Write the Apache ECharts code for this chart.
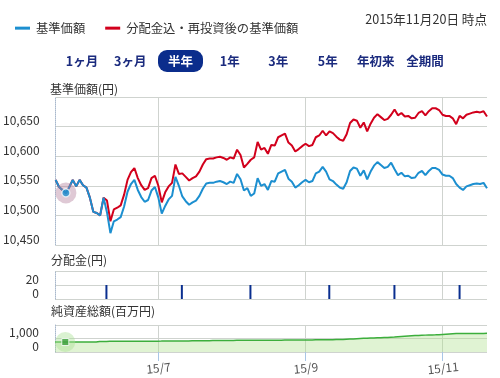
<!DOCTYPE html>
<html><head><meta charset="utf-8">
<script src="https://cdn.jsdelivr.net/npm/echarts@6/dist/echarts.min.js"></script>
<style>html,body{margin:0;padding:0;background:#fff}#c{width:500px;height:378px}</style>
</head><body><div id="c"></div>
<script>
// Trading days (categories), listed per month
const monthDays = [
  ['2015/05', [20,21,22,25,26,27,28,29]],
  ['2015/06', [1,2,3,4,5,8,9,10,11,12,15,16,17,18,19,22,23,24,25,26,29,30]],
  ['2015/07', [1,2,3,6,7,8,9,10,13,14,15,16,17,21,22,23,24,27,28,29,30,31]],
  ['2015/08', [3,4,5,6,7,10,11,12,13,14,17,18,19,20,21,24,25,26,27,28,31]],
  ['2015/09', [1,2,3,4,7,8,9,10,11,14,15,16,17,18,24,25,28,29,30]],
  ['2015/10', [1,2,5,6,7,8,9,13,14,15,16,19,20,21,22,23,26,27,28,29,30]],
  ['2015/11', [2,4,5,6,9,10,11,12,13,16,17,18,19,20]]
];
const xTickDates = ['2015/07/01','2015/09/01','2015/11/02'];
const xTickLabels = ['15/7','15/9','15/11'];

// 基準価額
const navValues = [
10560,10548,10543,10538,10548,10560,10549,10560,10551,10547,
10530,10506,10504,10500,10530,10505,10470,10490,10493,10497,
10515,10540,10553,10560,10543,10531,10523,10526,10542,10548,
10530,10503,10516,10527,10533,10565,10550,10532,10524,10518,
10522,10525,10533,10545,10554,10555,10555,10557,10558,10556,
10553,10557,10555,10570,10561,10542,10546,10533,10537,10563,
10550,10553,10543,10558,10557,10571,10574,10577,10562,10557,
10547,10551,10556,10560,10556,10558,10571,10574,10582,10574,
10561,10558,10552,10547,10545,10556,10575,10581,10579,10567,
10576,10561,10574,10584,10590,10585,10580,10582,10589,10578,
10568,10572,10566,10567,10563,10564,10572,10575,10568,10575,
10580,10580,10577,10569,10567,10567,10563,10553,10547,10543,
10549,10551,10553,10554,10553,10555,10546];

// 分配金込・再投資後の基準価額
const reinvValues = [
10560,10548,10543,10538,10548,10560,10549,10560,10551,10547,
10530,10506,10504,10500,10530,10525,10490,10510,10513,10517,
10535,10560,10573,10580,10563,10551,10543,10546,10563,10567,
10550,10522,10539,10549,10555,10586,10570,10571,10565,10559,
10563,10566,10574,10586,10595,10596,10596,10598,10599,10597,
10594,10598,10596,10611,10602,10581,10587,10594,10598,10624,
10611,10614,10604,10619,10618,10632,10635,10638,10623,10618,
10608,10612,10617,10621,10617,10619,10632,10635,10643,10635,
10642,10639,10633,10628,10626,10637,10656,10662,10660,10648,
10657,10642,10655,10665,10671,10666,10661,10663,10670,10679,
10669,10673,10667,10668,10664,10665,10673,10676,10669,10676,
10681,10681,10678,10670,10668,10668,10664,10654,10668,10664,
10670,10672,10674,10675,10674,10676,10667];

// 分配金 (円)
const distDates = ['2015/06/10','2015/07/10','2015/08/10','2015/09/10','2015/10/13','2015/11/10'];
const distValues = [20,20,20,20,20,20];

// 純資産総額 (百万円)
const assetValues = [
742,742,741,740,741,741,740,740,740,739,
740,741,741,785,786,787,788,788,789,790,
791,792,793,794,795,797,798,800,801,803,
805,806,808,810,812,814,815,817,820,822,
825,828,830,833,836,840,843,846,850,853,
856,858,860,862,864,866,868,870,871,872,
873,874,875,876,877,878,879,880,881,882,
884,886,888,890,893,896,899,902,905,908,
911,914,917,920,925,940,955,970,985,1000,
1015,1025,1035,1040,1050,1060,1070,1080,1095,1110,
1130,1150,1170,1190,1210,1220,1230,1240,1250,1260,
1265,1270,1280,1300,1320,1340,1360,1362,1364,1366,
1368,1370,1372,1374,1376,1378,1380];

const cursorIndex = 3;
const seriesNames = ['基準価額','分配金込・再投資後の基準価額'];
const periodButtons = ['1ヶ月','3ヶ月','半年','1年','3年','5年','年初来','全期間'];

// ---- build ----
const categories = [];
monthDays.forEach(([m, ds]) => ds.forEach(d => categories.push(m + '/' + String(d).padStart(2,'0'))));
const distSeries = categories.map(c => { const k = distDates.indexOf(c); return k >= 0 ? distValues[k] : '-'; });
const isTick = (idx, val) => xTickDates.indexOf(val) >= 0;
const FONT = '"Noto Sans CJK JP", "Noto Sans", sans-serif';
const GRID_COLOR = '#cfd3cf';
const BLUE = '#1c8fd0', RED = '#d2001c';

function xAx(gi, showLabel) {
  return {
    type: 'category', gridIndex: gi, data: categories, boundaryGap: false,
    axisLine: { show: false },
    axisTick: { show: showLabel, interval: isTick, length: 9, lineStyle: { color: '#a9c6e6' } },
    axisLabel: {
      show: showLabel, interval: isTick, rotate: 6, align: 'center', verticalAlign: 'top', margin: 10,
      fontFamily: FONT, fontSize: 12, color: '#555',
      formatter: v => xTickLabels[xTickDates.indexOf(v)] || ''
    },
    splitLine: { show: true, interval: isTick, lineStyle: { color: GRID_COLOR } }
  };
}
function yAx(gi, min, max, interval) {
  return {
    type: 'value', gridIndex: gi, min, max, interval,
    axisLine: { show: true, lineStyle: { color: '#a8b8cc', type: 'dotted' } },
    axisTick: { show: false },
    axisLabel: {
      showMaxLabel: false, fontFamily: FONT, fontSize: 12, color: '#333', margin: 16,
      verticalAlign: 'bottom', formatter: v => v.toLocaleString('en-US')
    },
    splitLine: { show: true, lineStyle: { color: GRID_COLOR } }
  };
}

const chart = echarts.init(document.getElementById('c'), null, { renderer: 'canvas' });
const graphics = [
  { type: 'text', style: { x: 50, y: 89, text: '基準価額(円)', font: '12px ' + FONT, fill: '#333', verticalAlign: 'middle' } },
  { type: 'text', style: { x: 51, y: 260, text: '分配金(円)', font: '12px ' + FONT, fill: '#333', verticalAlign: 'middle' } },
  { type: 'text', style: { x: 51, y: 311.5, text: '純資産総額(百万円)', font: '12px ' + FONT, fill: '#333', verticalAlign: 'middle' } },
  { type: 'text', style: { x: 487, y: 19.5, text: '2015年11月20日 時点', font: '12.6px ' + FONT, fill: '#333', align: 'right', verticalAlign: 'middle' } },
  { type: 'rect', shape: { x: 158, y: 50, width: 45, height: 22, r: 9 }, style: { fill: '#0b2d8c' } }
];
const btnX = [82, 130.3, 180.5, 229.7, 278.3, 327.8, 375.8, 425];
periodButtons.forEach((t, i) => {
  graphics.push({ type: 'text', z: 10, style: { x: btnX[i], y: 61, text: t, font: 'bold 12.5px ' + FONT,
    fill: t === '半年' ? '#fff' : '#1b2b7e', align: 'center', verticalAlign: 'middle' } });
});

chart.setOption({
  animation: false,
  backgroundColor: '#fff',
  textStyle: { fontFamily: FONT },
  legend: {
    data: seriesNames, left: 10, top: 17, icon: 'rect', itemWidth: 15, itemHeight: 3, itemGap: 20,
    textStyle: { fontFamily: FONT, fontSize: 12.3, color: '#333', padding: [0, 0, 0, 1] }
  },
  graphic: graphics,
  grid: [
    { left: 55, right: 13, top: 97, height: 148 },
    { left: 55, right: 13, top: 271, height: 28 },
    { left: 55, right: 13, top: 325, height: 27 }
  ],
  xAxis: [xAx(0, false), xAx(1, false), xAx(2, true)],
  yAxis: [yAx(0, 10450, 10700, 50), yAx(1, 0, 40, 20), yAx(2, 0, 2000, 1000)],
  series: [
    { name: seriesNames[1], type: 'line', xAxisIndex: 0, yAxisIndex: 0, data: reinvValues, showSymbol: false,
      color: RED, lineStyle: { width: 2, color: RED }, z: 2 },
    { name: seriesNames[0], type: 'line', xAxisIndex: 0, yAxisIndex: 0, data: navValues, showSymbol: false,
      color: BLUE, lineStyle: { width: 2, color: BLUE }, z: 3 },
    { name: 'halo1', type: 'scatter', xAxisIndex: 0, yAxisIndex: 0, data: [[cursorIndex, navValues[cursorIndex]]],
      symbolSize: 21, itemStyle: { color: 'rgba(175,120,150,0.5)' }, z: 4 },
    { name: 'dot1', type: 'scatter', xAxisIndex: 0, yAxisIndex: 0, data: [[cursorIndex, navValues[cursorIndex]]],
      symbolSize: 8, itemStyle: { color: BLUE, borderColor: '#fff', borderWidth: 1.2 }, z: 5 },
    { name: '分配金', type: 'bar', xAxisIndex: 1, yAxisIndex: 1, data: distSeries, barWidth: 2,
      itemStyle: { color: '#0a2f8f' } },
    { name: '純資産総額', type: 'line', xAxisIndex: 2, yAxisIndex: 2, data: assetValues, showSymbol: false,
      lineStyle: { width: 1.5, color: '#3cae3c' }, color: '#3cae3c',
      areaStyle: { color: 'rgba(175,225,140,0.55)' } },
    { name: 'halo2', type: 'scatter', xAxisIndex: 2, yAxisIndex: 2, data: [[cursorIndex, assetValues[cursorIndex]]],
      symbolSize: 20, itemStyle: { color: 'rgba(170,225,150,0.55)' }, z: 4 },
    { name: 'dot2', type: 'scatter', xAxisIndex: 2, yAxisIndex: 2, data: [[cursorIndex, assetValues[cursorIndex]]],
      symbol: 'rect', symbolSize: 7, itemStyle: { color: '#3a9e3a', borderColor: '#fff', borderWidth: 1 }, z: 5 }
  ]
});
</script></body></html>
